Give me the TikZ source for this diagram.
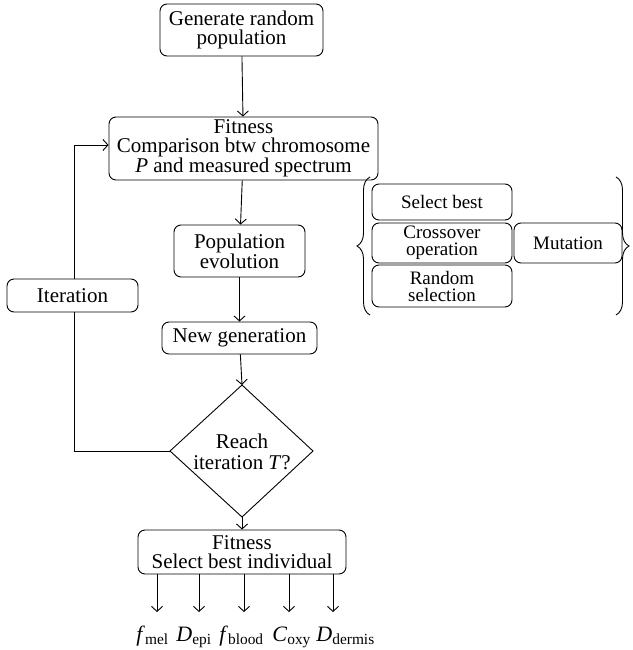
\documentclass[tikz,border=0pt]{standalone}
\usepackage{fontspec}
\setmainfont{Liberation Serif}
\usetikzlibrary{arrows.meta,decorations.pathreplacing}
\begin{document}
\begin{tikzpicture}[x=1pt,y=-1pt,
  line width=0.9pt,
  arr/.style={-{Straight Barb[length=5pt,width=11pt,line width=0.9pt]}},
  box/.style={draw, rounded corners=7pt, inner sep=0pt, align=center,
    font=\fontsize{21}{19}\selectfont},
  sbox/.style={draw, rounded corners=7pt, inner sep=0pt, align=center,
    font=\fontsize{19}{17}\selectfont},
  lab/.style={inner sep=0pt, font=\fontsize{22}{22}\selectfont}]
\useasboundingbox (0,0) rectangle (632,650);

\node[box, minimum width=163pt, minimum height=52pt] (gen) at (241.5,30) {Generate random\\population};
\node[box, minimum width=269pt, minimum height=63pt] (fit) at (243.5,148.5) {Fitness\\Comparison btw chromosome\\\textit{P} and measured spectrum};
\node[box, minimum width=131pt, minimum height=52pt] (pop) at (239.5,251) {Population\\evolution};
\node[box, minimum width=155pt, minimum height=32pt] (newg) at (239.5,338) {New generation};
\node[box, minimum width=131pt, minimum height=33pt] (iter) at (72.5,295.5) {Iteration};

% diamond
\coordinate (dtop) at (242,385);
\coordinate (dleft) at (170,451);
\coordinate (dright) at (313,451);
\coordinate (dbot) at (242,517);
\draw (dtop) -- (dright) -- (dbot) -- (dleft) -- cycle;
\node[align=center, inner sep=0pt, font=\fontsize{21}{20.5}\selectfont] (reach) at (242,452) {Reach\\iteration \textit{T}?};

\node[box, minimum width=208pt, minimum height=44pt] (best) at (242,552) {Fitness\\Select best individual};

% side boxes
\node[sbox, minimum width=140pt, minimum height=36pt] (sel) at (442,202) {Select best};
\node[sbox, minimum width=140pt, minimum height=40pt] (cross) at (442,243) {Crossover\\operation};
\node[sbox, minimum width=140pt, minimum height=42pt] (rand) at (442,286) {Random\\selection};
\node[sbox, minimum width=108pt, minimum height=40pt] (mut) at (568,243) {Mutation};
\coordinate (lb1) at (370,315);
\coordinate (lb2) at (370,177);
\coordinate (rb1) at (616,177);
\coordinate (rb2) at (616,315);
\draw[decorate, decoration={brace, amplitude=13pt}] (lb1) -- (lb2);
\draw[decorate, decoration={brace, amplitude=13pt}] (rb1) -- (rb2);

% main flow
\draw[arr] (gen) -- (fit);
\draw[arr] (fit) -- (pop);
\draw[arr] (pop) -- (newg);
\draw[arr] (newg) -- (dtop);
\draw[arr] (dbot) -- (best);

% iteration loop
\coordinate (c1) at (74,451);
\coordinate (c2) at (74,145);
\coordinate (fitin) at (fit.west |- c2);
\draw (dleft) -- (c1) -- (iter.south -| c1);
\draw[arr] (iter.north -| c1) -- (c2) -- (fitin);

% outputs
\foreach \n/\x/\lx/\t in {o1/157/136/{\textit{f}\textsubscript{mel}},
                      o2/199/176/{\textit{D}\textsubscript{epi}},
                      o3/244/219/{\textit{f}\textsubscript{blood}},
                      o4/289/272/{\textit{C}\textsubscript{oxy}},
                      o5/333/316/{\textit{D}\textsubscript{dermis}}}{
  \coordinate (\n s) at (\x,574);
  \coordinate (\n e) at (\x,612);
  \node[lab, anchor=base west] (\n) at (\lx,641) {\t};
  \draw[arr] (\n s) -- (\n e);
}
\end{tikzpicture}
\end{document}
